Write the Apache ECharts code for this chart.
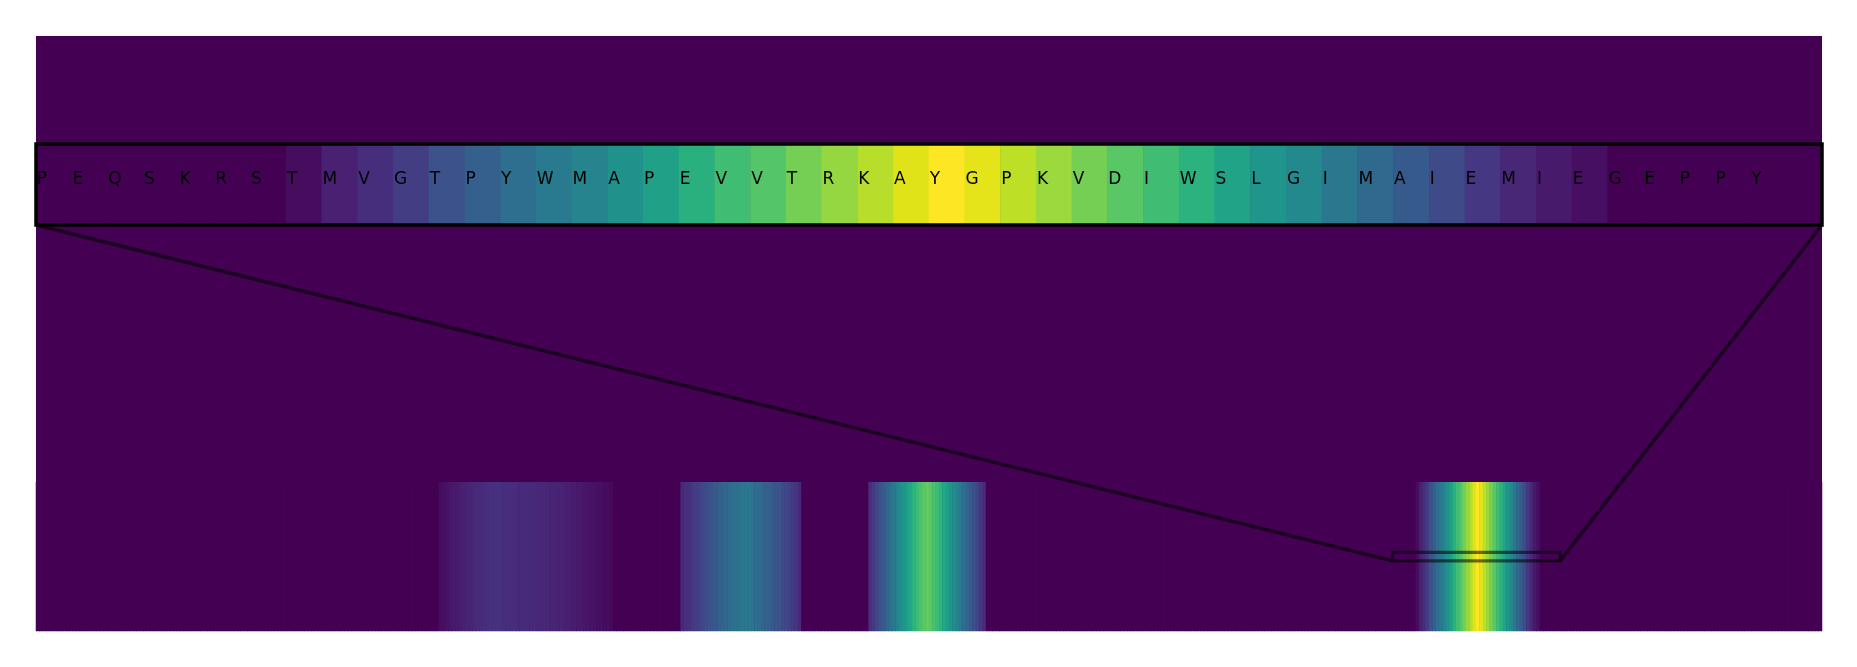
<!DOCTYPE html>
<html>
<head>
<meta charset="utf-8">
<script src="https://cdn.jsdelivr.net/npm/echarts@6.0.0/dist/echarts.min.js"></script>
<style>
  html, body { margin: 0; padding: 0; background: #fff; }
  #main { width: 1857px; height: 667px; }
</style>
</head>
<body>
<div id="main"></div>
<script>
// whole sequence, one value per residue (0 = background)
var residueCount = 532;

// bands seen in the full track
var band1Start = 120;
var band1Values = [0.03,0.04,0.05,0.06,0.07,0.07,0.08,0.09,0.10,0.10,0.11,0.12,0.12,0.13,0.13,0.14,0.14,0.14,0.14,0.13,
                   0.13,0.13,0.13,0.12,0.12,0.12,0.12,0.12,0.12,0.11,0.11,0.11,0.11,0.10,0.10,0.10,0.10,0.09,0.09,0.08,
                   0.08,0.07,0.07,0.06,0.06,0.05,0.05,0.04,0.04,0.03,0.03,0.02];
var band2Start = 192;
var band2Values = [0.11,0.13,0.14,0.16,0.18,0.19,0.21,0.23,0.25,0.26,0.28,0.30,0.31,0.33,0.35,0.36,0.37,0.38,0.40,0.40,
                   0.39,0.38,0.36,0.35,0.33,0.31,0.30,0.28,0.26,0.25,0.23,0.21,0.19,0.17,0.15,0.12];
var band3Start = 248;
var band3Values = [0.13,0.17,0.21,0.25,0.28,0.32,0.36,0.40,0.44,0.48,0.52,0.56,0.60,0.64,0.68,0.71,0.74,0.76,0.74,0.71,
                   0.68,0.64,0.60,0.56,0.52,0.48,0.44,0.40,0.36,0.32,0.28,0.24,0.20,0.16,0.12];

// zoomed window (inset)
var windowStart = 404;
var windowLetters = ['P','E','Q','S','K','R','S','T','M','V','G','T','P','Y','W','M','A','P','E','V',
                     'V','T','R','K','A','Y','G','P','K','V','D','I','W','S','L','G','I','M','A','I',
                     'E','M','I','E','G','E','P','P','Y'];
var windowValues = [0,0,0,0,0,0,0,0.03,0.09,0.13,0.18,0.25,0.30,0.36,0.41,0.45,0.50,0.57,0.63,0.69,
                    0.73,0.79,0.84,0.89,0.95,1.00,0.96,0.90,0.85,0.79,0.74,0.69,0.64,0.58,0.52,0.47,0.40,0.34,0.28,0.22,
                    0.16,0.11,0.07,0.04,0,0,0,0,0,0];

var viridis = ['#440154','#471365','#482475','#463480','#414487','#3b528b','#355f8d','#2f6c8e','#2a788e','#25848e',
               '#21918c','#1e9c89','#22a884','#2fb47c','#44bf70','#5ec962','#7ad151','#9bd93c','#bddf26','#dfe318','#fde725'];

var trackValues = [];
for (var i = 0; i < residueCount; i++) trackValues.push(0);
function putBand(start, vals) {
    for (var k = 0; k < vals.length; k++) trackValues[start + k] = vals[k];
}
putBand(band1Start, band1Values);
putBand(band2Start, band2Values);
putBand(band3Start, band3Values);
putBand(windowStart, windowValues);

var trackData = [], trackCats = [];
for (var i = 0; i < residueCount; i++) {
    trackCats.push(String(i));
    trackData.push([i, 0, trackValues[i]]);
}
var insetData = [], insetCats = [];
for (var j = 0; j < windowValues.length; j++) {
    insetCats.push(String(j));
    insetData.push([j, 0, windowValues[j]]);
}

var plotL = 36, plotT = 36, plotW = 1786, plotH = 595;
var insetT = 144, insetH = 81;

var myChart = echarts.init(document.getElementById('main'));
var option = {
    animation: false,
    grid: [
        {left: plotL, top: plotT, width: plotW, height: plotH, show: true,
         backgroundColor: '#440154', borderWidth: 0},
        {left: plotL, top: insetT, width: plotW, height: insetH, show: false}
    ],
    xAxis: [
        {type: 'category', gridIndex: 0, data: trackCats, show: false},
        {type: 'category', gridIndex: 1, data: insetCats, show: false}
    ],
    yAxis: [
        {type: 'category', gridIndex: 0, data: ['0','1','2','3'], show: false},
        {type: 'category', gridIndex: 1, data: ['0'], show: false}
    ],
    visualMap: {
        type: 'continuous', show: false, min: 0, max: 1, dimension: 2,
        seriesIndex: [0, 1],
        inRange: {color: viridis}
    },
    series: [
        {
            type: 'heatmap', xAxisIndex: 0, yAxisIndex: 0,
            data: trackData,
            itemStyle: {borderWidth: 0},
            emphasis: {disabled: true}
        },
        {
            type: 'heatmap', xAxisIndex: 1, yAxisIndex: 1,
            data: insetData,
            itemStyle: {borderWidth: 0},
            emphasis: {disabled: true},
            label: {
                show: true,
                position: 'insideLeft',
                distance: 1,
                offset: [0, -5],
                color: '#000',
                fontFamily: 'DejaVu Sans',
                fontSize: 17,
                formatter: function (p) {
                    return windowLetters[p.data[0]] || '';
                }
            }
        }
    ]
};
myChart.setOption(option);

// zoom marker: rectangle on the track plus connector lines to the inset
var a = myChart.convertToPixel({xAxisIndex: 0, yAxisIndex: 0}, [windowStart, 0]);
var b = myChart.convertToPixel({xAxisIndex: 0, yAxisIndex: 0}, [windowStart + 1, 0]);
var cell = b[0] - a[0];
var rx0 = a[0] - cell / 2;
var rx1 = rx0 + cell * windowValues.length;
var ry0 = a[1] - 4.25, ry1 = a[1] + 4.25;
var boxB = insetT + insetH;

myChart.setOption({
    graphic: [
        {type: 'rect', z: 100, shape: {x: plotL, y: insetT, width: plotW, height: insetH},
         style: {fill: 'none', stroke: '#000', lineWidth: 3.5}},
        {type: 'rect', z: 100, shape: {x: rx0, y: ry0, width: rx1 - rx0, height: ry1 - ry0},
         style: {fill: 'none', stroke: 'rgba(0,0,0,0.55)', lineWidth: 3.3}},
        {type: 'line', z: 100, shape: {x1: plotL, y1: boxB, x2: rx0, y2: ry1},
         style: {stroke: 'rgba(0,0,0,0.6)', lineWidth: 3.5}},
        {type: 'line', z: 100, shape: {x1: plotL + plotW, y1: boxB, x2: rx1, y2: ry1},
         style: {stroke: 'rgba(0,0,0,0.6)', lineWidth: 3.5}}
    ]
});
</script>
</body>
</html>
